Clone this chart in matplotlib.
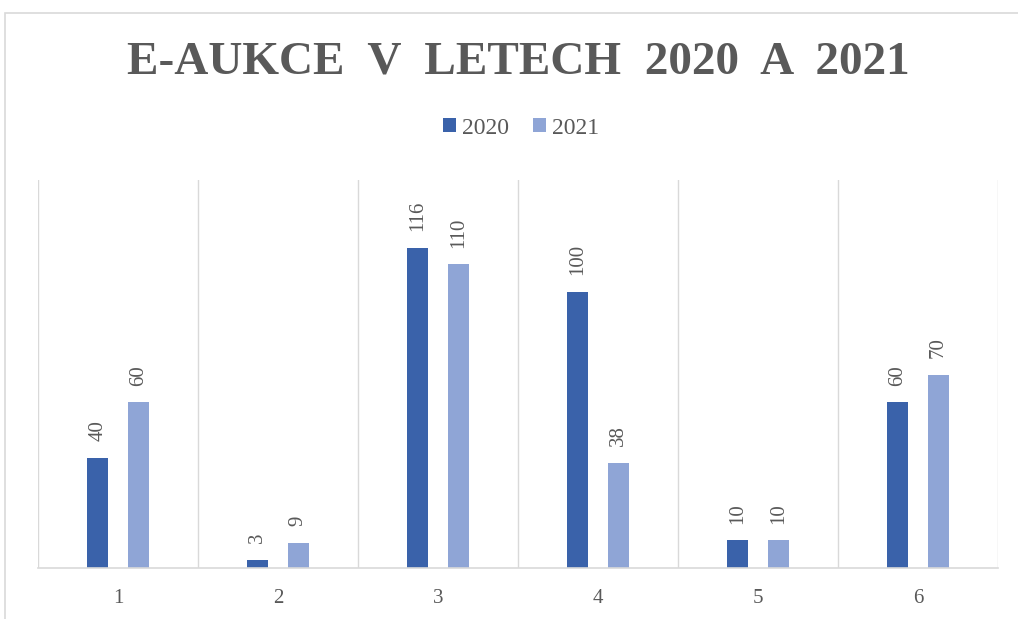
import matplotlib.pyplot as plt
import numpy as np
from matplotlib.patches import Rectangle

categories = ['1', '2', '3', '4', '5', '6']
values_2020 = [40, 3, 116, 100, 10, 60]
values_2021 = [60, 9, 110, 38, 10, 70]

plt.rcParams['font.family'] = ['Liberation Serif', 'DejaVu Serif']

fig = plt.figure(figsize=(10.18, 6.19), dpi=100)
W, H = 1018, 619

# light chart frame (cut off at right/bottom like the screenshot)
fig.patches.append(Rectangle((5 / W, -0.1), 1.2, (H - 13) / H + 0.1, transform=fig.transFigure,
                             fill=False, edgecolor='#d9d9d9', linewidth=1.2))

ax = fig.add_axes([38 / W, 51 / H, 960 / W, 388 / H])
x = np.arange(len(categories))
width = 0.135
off = 0.127
b1 = ax.bar(x - off, values_2020, width, color='#3a62aa', label='2020')
b2 = ax.bar(x + off, values_2021, width, color='#8fa5d6', label='2021')

for bars in (b1, b2):
    for bar in bars:
        ax.annotate(f'{bar.get_height():.0f}', (bar.get_x() + bar.get_width() / 2, bar.get_height()),
                    xytext=(0, 12), textcoords='offset points', rotation=90,
                    ha='center', va='bottom', fontsize=15, color='#595959')

ax.set_xlim(-0.5, len(categories) - 0.5)
ax.set_ylim(0, 140.5)
ax.set_yticks([])
ax.set_xticks(x)
ax.set_xticklabels(categories, fontsize=15, color='#595959')
ax.tick_params(axis='x', length=0, pad=15)
for b in np.arange(-0.5, len(categories), 1.0):
    ax.axvline(b, color='#d9d9d9', linewidth=1, zorder=0)
for s in ('top', 'left', 'right'):
    ax.spines[s].set_visible(False)
ax.spines['bottom'].set_color('#d9d9d9')
ax.spines['bottom'].set_linewidth(1.2)

fig.text(518 / W, 1 - 62 / H, 'E-AUKCE  V  LETECH  2020  A  2021', ha='center', va='center',
         fontsize=34, fontweight='bold', color='#595959')
fig.legend(loc='center', bbox_to_anchor=(521 / W, 1 - 128 / H), ncol=2, frameon=False,
           fontsize=17, handlelength=0.55, handleheight=0.55, handletextpad=0.25, columnspacing=1.0,
           labelcolor='#595959')

fig.savefig('out.png', dpi=100)
